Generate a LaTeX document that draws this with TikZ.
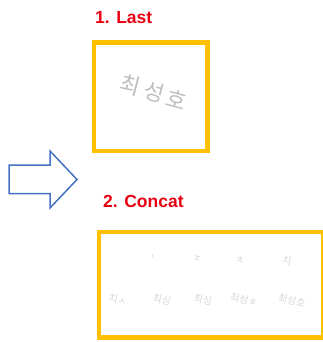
\documentclass[tikz,border=0pt]{standalone}
\usepackage{fontspec}
\setmainfont{Liberation Sans}
\newfontfamily\krfont{Noto Sans CJK KR}
\definecolor{boxgold}{RGB}{255,192,0}
\definecolor{labelred}{RGB}{232,0,18}
\definecolor{arrowblue}{RGB}{68,114,196}
\definecolor{inkgray}{RGB}{190,190,190}
\definecolor{faintgray}{RGB}{215,215,215}
\begin{document}
\begin{tikzpicture}[x=1pt,y=-1pt,
  goldbox/.style={draw=boxgold,line width=4.5pt},
  steplabel/.style={text=labelred,font=\bfseries\fontsize{17.5}{17.5}\selectfont,anchor=west,inner sep=0pt},
  hand/.style={text=inkgray,font=\krfont\fontsize{22}{22}\selectfont,inner sep=0pt,rotate=-15},
  faint/.style={text=faintgray,font=\krfont\fontsize{10}{10}\selectfont,inner sep=0pt,rotate=-12}]
\useasboundingbox (0,0) rectangle (322,342);
\node[steplabel] (lbl1) at (95,17.5) {1. Last};
\draw[goldbox] (94,42.5) rectangle (207.5,151);
\node[hand] (h1) at (130,85) {최};
\node[hand] (h2) at (154,92) {성};
\node[hand] (h3) at (177,99) {호};
\draw[draw=arrowblue,line width=1.5pt,line join=miter]
  (9,165) -- (50,165) -- (50,151) -- (77,179.5) -- (50,208) -- (50,193.5) -- (9,193.5) -- cycle;
\node[steplabel] (lbl2) at (103,201.5) {2. Concat};
\draw[goldbox] (99,232) rectangle (323,337.5);
\node[faint] (c2) at (152,259) {'};
\node[faint] (c3) at (197,259) {ㅈ};
\node[faint] (c4) at (240,260) {ㅊ};
\node[faint] (c5) at (287,261) {치};
\node[faint] (c6) at (118,300) {치ㅅ};
\node[faint] (c7) at (162,300) {최싱};
\node[faint] (c8) at (203,300) {최싱};
\node[faint] (c9) at (244,300) {최성ㅎ};
\node[faint] (c10) at (292,301) {최성호};
\end{tikzpicture}
\end{document}
